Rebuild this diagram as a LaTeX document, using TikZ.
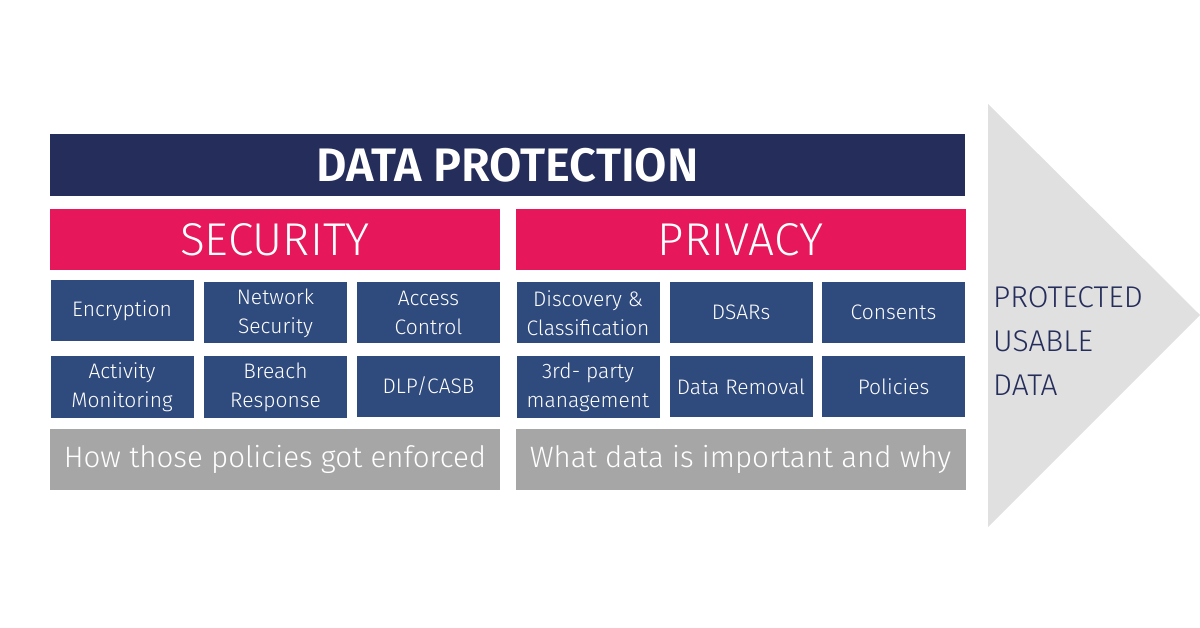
\documentclass[tikz,border=0pt]{standalone}
\usepackage{fontspec}
\setmainfont{Fira Sans Light}[BoldFont={Fira Sans SemiBold}]
\definecolor{navy}{HTML}{252D5B}
\definecolor{crimson}{HTML}{E6175A}
\definecolor{tile}{HTML}{2F4A7C}
\definecolor{note}{HTML}{A6A6A6}
\definecolor{arrowgray}{HTML}{E0E0E0}
\tikzset{
  tilebox/.style={fill=tile, text=white, minimum width=143pt, minimum height=61pt,
    inner sep=0pt, align=center, font=\fontsize{21}{29}\selectfont},
  headbox/.style={fill=crimson, text=white, minimum width=450pt, minimum height=61pt,
    inner sep=0pt, font=\fontsize{46}{50}\selectfont},
  notebox/.style={fill=note, text=white, minimum width=450pt, minimum height=61pt,
    inner sep=0pt, font=\fontsize{29.5}{32}\selectfont}
}
\begin{document}
\begin{tikzpicture}[x=1pt,y=-1pt]
  \useasboundingbox (0,0) rectangle (1200,628);
  \fill[arrowgray] (988,104) -- (1200,315) -- (988,527) -- cycle;
  \node[fill=navy, text=white, minimum width=915pt, minimum height=62pt, inner sep=0pt,
    font=\fontsize{47}{52}\selectfont\bfseries] (title) at (507.5,165) {DATA PROTECTION};
  \node[headbox] (security) at (275,239.5) {SECURITY};
  \node[headbox] (privacy) at (740.5,239.5) {PRIVACY};
  % security tiles
  \node[tilebox] (encryption) at (122,310.5) {Encryption};
  \node[tilebox] (network) at (275.5,313) {Network\\Security};
  \node[tilebox] (access) at (428.5,313) {Access\\Control};
  \node[tilebox] (activity) at (122,387) {Activity\\Monitoring};
  \node[tilebox] (breach) at (275.5,387) {Breach\\Response};
  \node[tilebox] (dlp) at (428.5,386.5) {DLP/CASB};
  % privacy tiles
  \node[tilebox] (discovery) at (588,313) {Discovery \&\\Classification};
  \node[tilebox] (dsars) at (741,312.5) {DSARs};
  \node[tilebox] (consents) at (893.5,312.5) {Consents};
  \node[tilebox] (thirdparty) at (588,387) {3rd- party\\management};
  \node[tilebox] (removal) at (741,386.5) {Data Removal};
  \node[tilebox] (policies) at (893.5,386.5) {Policies};
  \node[notebox] (how) at (275,459.5) {How those policies got enforced};
  \node[notebox] (what) at (740.5,459.5) {What data is important and why};
  \node[anchor=north west, text=navy, align=left, inner sep=0pt,
    font=\fontsize{30}{44}\selectfont] (result) at (993,286) {PROTECTED\\USABLE\\DATA};
\end{tikzpicture}
\end{document}
